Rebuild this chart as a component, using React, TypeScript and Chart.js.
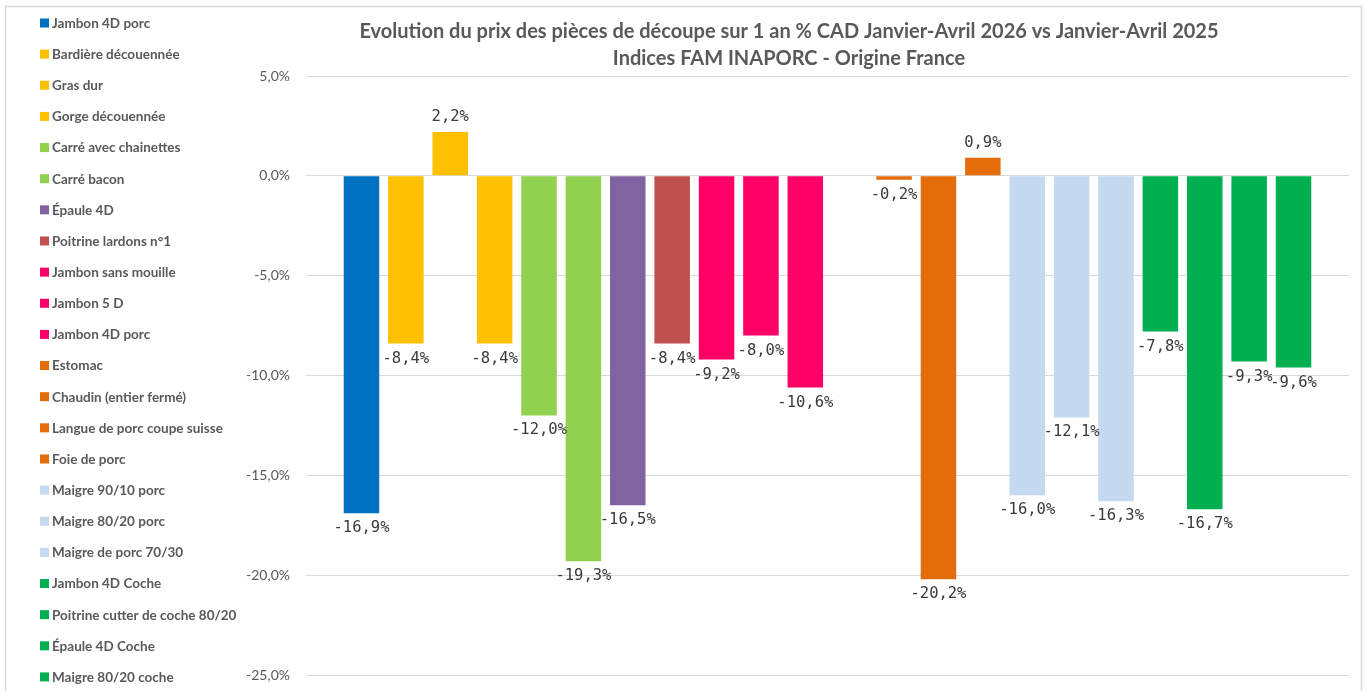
import React, { useEffect, useRef } from "react";
import { Chart, registerables } from "chart.js";

Chart.register(...registerables);

const titleLines = [
  "Evolution du prix des pièces de découpe sur 1 an % CAD Janvier-Avril 2026 vs Janvier-Avril 2025",
  "Indices FAM INAPORC - Origine France",
];

const categories = [
  "Jambon 4D porc",
  "Bardière découennée",
  "Gras dur",
  "Gorge découennée",
  "Carré avec chainettes",
  "Carré bacon",
  "Épaule 4D",
  "Poitrine lardons n°1",
  "Jambon sans mouille",
  "Jambon 5 D",
  "Jambon 4D porc",
  "Estomac",
  "Chaudin (entier fermé)",
  "Langue de porc coupe suisse",
  "Foie de porc",
  "Maigre 90/10 porc",
  "Maigre 80/20 porc",
  "Maigre de porc 70/30",
  "Jambon 4D Coche",
  "Poitrine cutter de coche 80/20",
  "Épaule 4D Coche",
  "Maigre 80/20 coche",
];

const values: (number | null)[] = [
  -16.9, -8.4, 2.2, -8.4, -12.0, -19.3, -16.5, -8.4, -9.2, -8.0, -10.6,
  null, -0.2, -20.2, 0.9, -16.0, -12.1, -16.3, -7.8, -16.7, -9.3, -9.6,
];

const colors = [
  "#0070C0", "#FFC000", "#FFC000", "#FFC000", "#92D050", "#92D050",
  "#8064A2", "#C0504D", "#FF0066", "#FF0066", "#FF0066",
  "#E46C0A", "#E46C0A", "#E46C0A", "#E46C0A",
  "#C5D9F1", "#C5D9F1", "#C5D9F1",
  "#00B050", "#00B050", "#00B050", "#00B050",
];

const yTicks = [-25, -20, -15, -10, -5, 0, 5];

const fmt = (v: number) => v.toFixed(1).replace(".", ",") + "%";

export default function App() {
  const ref = useRef<HTMLCanvasElement>(null);

  useEffect(() => {
    document.body.style.margin = "0";
    const canvas = ref.current!;

    const framePlugin = {
      id: "frame",
      beforeDraw(chart: any) {
        const ctx = chart.ctx;
        ctx.save();
        ctx.fillStyle = "#ffffff";
        ctx.fillRect(0, 0, chart.width, chart.height);
        ctx.strokeStyle = "#d9d9d9";
        ctx.lineWidth = 1.5;
        ctx.strokeRect(5.5, 6.5, 1356, 720);
        ctx.restore();
      },
    };

    const labelPlugin = {
      id: "barLabels",
      afterDatasetsDraw(chart: any) {
        const ctx = chart.ctx;
        const meta = chart.getDatasetMeta(0);
        ctx.save();
        ctx.font = "15.5px 'DejaVu Sans Mono'";
        ctx.fillStyle = "#3a3a3a";
        ctx.textAlign = "center";
        ctx.textBaseline = "middle";
        meta.data.forEach((el: any, i: number) => {
          const v = values[i];
          if (v === null || v === undefined) return;
          const y = v >= 0 ? el.y - 15 : el.y + 15;
          ctx.fillText(fmt(v), el.x, y);
        });
        ctx.restore();
      },
    };

    const sideLegendPlugin = {
      id: "sideLegend",
      afterDraw(chart: any) {
        const ctx = chart.ctx;
        ctx.save();
        // title
        ctx.fillStyle = "#595959";
        ctx.textAlign = "center";
        ctx.textBaseline = "middle";
        ctx.font = "bold 20px Lato";
        ctx.fillText(titleLines[0], 789, 31.5);
        ctx.fillText(titleLines[1], 789, 58.5);
        // legend
        ctx.textAlign = "left";
        ctx.font = "bold 13.5px Lato";
        categories.forEach((c, i) => {
          const cy = 23 + i * 31.14;
          ctx.fillStyle = colors[i];
          ctx.fillRect(40, cy - 4.5, 9, 9);
          ctx.fillStyle = "#595959";
          ctx.fillText(c, 52, cy + 0.5);
        });
        ctx.restore();
      },
    };

    const chart = new Chart(canvas, {
      type: "bar",
      data: {
        labels: categories,
        datasets: [
          {
            label: "Evolution",
            data: values.map((v, i) => ({ x: i, y: v })) as any,
            backgroundColor: colors,
            borderWidth: 0,
            categoryPercentage: 0.8,
            barPercentage: 1.0,
          },
        ],
      },
      options: {
        animation: false,
        responsive: false,
        layout: { padding: { left: 200, top: 76, right: 18, bottom: 16 } },
        plugins: {
          legend: { display: false },
          title: { display: false },
          tooltip: { enabled: false },
        },
        scales: {
          x: {
            type: "linear",
            min: -1.25,
            max: 22.25,
            offset: false,
            bounds: "data",
            grid: { offset: false },
            display: false,
          },
          y: {
            min: -25,
            max: 5,
            afterFit(s: any) {
              s.width = 106;
              s.paddingTop = 0;
              s.paddingBottom = 0;
            },
            afterBuildTicks(s: any) {
              s.ticks = yTicks.map((v) => ({ value: v }));
            },
            border: { display: false },
            grid: { color: "#d9d9d9", lineWidth: 1, drawTicks: false },
            ticks: {
              padding: 16,
              color: "#595959",
              font: { family: "Lato", size: 14 },
              callback: (v: any) => fmt(Number(v)),
            },
          },
        },
      },
      plugins: [framePlugin, labelPlugin, sideLegendPlugin],
    });
    return () => chart.destroy();
  }, []);

  return (
    <div style={{ width: 1367, height: 691, overflow: "hidden" }}>
      <canvas ref={ref} width={1367} height={691} style={{ display: "block" }} />
    </div>
  );
}
